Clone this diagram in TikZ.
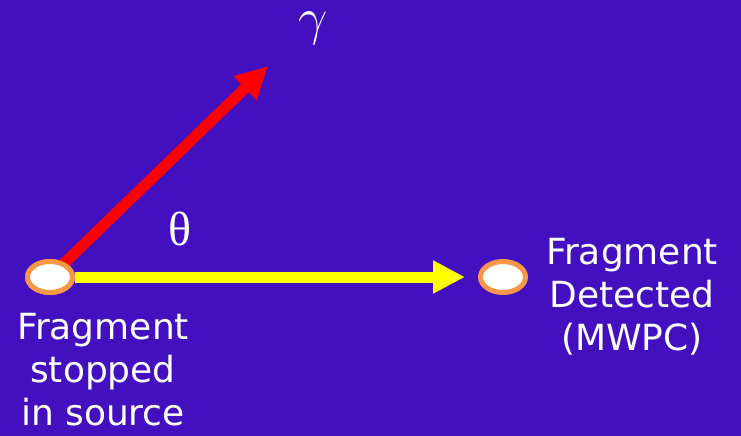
\documentclass[tikz,border=0pt]{standalone}
\usepackage{graphicx}
\usepackage{fontspec}
\setmainfont{DejaVu Sans}
\newfontfamily\greekfont{Liberation Serif}
\usetikzlibrary{arrows.meta, positioning, shapes.geometric}
\definecolor{Slide_Purple}{RGB}{66,16,190}
\definecolor{Ring_Orange}{HTML}{F79646}
\definecolor{Ray_Red}{HTML}{FF0000}
\definecolor{Ray_Yellow}{HTML}{FFFF00}

\begin{document}
\begin{tikzpicture}[x=1pt, y=-1pt,
    spot/.style={ellipse, draw=Ring_Orange, line width=5pt, fill=white, minimum width=45pt, minimum height=31pt, inner sep=0pt},
    caption/.style={text=white, font=\fontsize{36}{43}\selectfont, align=center, inner sep=0pt},
    greek/.style={text=white, inner sep=0pt},
    ray/.style={line width=11pt, -{Triangle[length=32pt, width=31pt]}}]
    % Slide background
    \fill[Slide_Purple] (0,0) rectangle (741,436);
    \useasboundingbox (0,0) rectangle (741,436);

    % Source and detector spots
    \node[spot] (source) at (50,277) {};
    \node[spot] (mwpc) at (503,277) {};
    \coordinate (gtip) at (268,66);

    % Gamma ray and fragment path
    \draw[ray, Ray_Red] (source.center) -- (gtip);
    \draw[ray, Ray_Yellow, shorten >=13pt] (source.east) -- (mwpc.west);
    \node[spot] at (source) {};

    % Labels
    \node[greek, font=\Huge] (gamma) at (313,28) {\scalebox{2.1}{$\gamma$}};
    \node[greek, font=\greekfont\fontsize{48}{52}\selectfont] (theta) at (180,229) {θ};
    \node[caption, anchor=north] (srclabel) at (103,313) {Fragment\\stopped\\in source};
    \node[caption, anchor=north] (detlabel) at (632,238) {Fragment\\Detected\\(MWPC)};
\end{tikzpicture}
\end{document}
